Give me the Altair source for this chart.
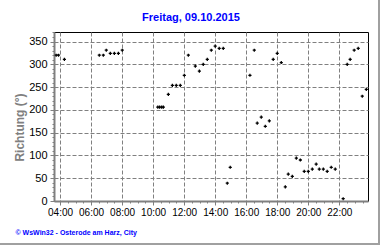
import altair as alt
import pandas as pd

# ---- data (hour of day, wind direction in degrees) ----
hours = [3.75, 3.9, 4.28, 6.53, 6.79, 6.98, 7.24, 7.5, 7.76, 8.01,
         10.3, 10.42, 10.55, 10.66, 10.98, 11.24, 11.49, 11.75, 12.01, 12.27,
         12.72, 12.98, 13.23, 13.49, 13.75, 14.0, 14.26, 14.52, 14.78, 14.97,
         16.24, 16.52, 16.71, 16.97, 17.23, 17.49, 17.74, 18.0, 18.26, 18.52,
         18.71, 18.97, 19.23, 19.49, 19.74, 20.0, 20.26, 20.51, 20.71, 20.97,
         21.22, 21.48, 21.74, 22.25, 22.51, 22.7, 22.96, 23.22, 23.48, 23.74]
direction = [320, 320, 311, 320, 320, 331, 324, 324, 324, 331,
             206, 206, 206, 206, 234, 254, 254, 254, 276, 320,
             296, 285, 300, 311, 331, 340, 335, 335, 39, 74,
             276, 331, 171, 184, 164, 176, 311, 324, 304, 31,
             59, 54, 94, 90, 65, 65, 70, 81, 70, 70,
             65, 74, 70, 5, 300, 311, 331, 335, 230, 245]

x_major = [4, 6, 8, 10, 12, 14, 16, 18, 20, 22]
x_minor = [4.0, 4.5, 5.0, 5.5, 6.0, 6.5, 7.0, 7.5, 8.0, 8.5, 9.0, 9.5, 10.0, 10.5,
           11.0, 11.5, 12.0, 12.5, 13.0, 13.5, 14.0, 14.5, 15.0, 15.5, 16.0, 16.5,
           17.0, 17.5, 18.0, 18.5, 19.0, 19.5, 20.0, 20.5, 21.0, 21.5, 22.0, 22.5,
           23.0, 23.5]
y_major = [0, 50, 100, 150, 200, 250, 300, 350]
y_minor = [0, 10, 20, 30, 40, 50, 60, 70, 80, 90, 100, 110, 120, 130, 140, 150,
           160, 170, 180, 190, 200, 210, 220, 230, 240, 250, 260, 270, 280, 290,
           300, 310, 320, 330, 340, 350, 360, 370]

title_text = "Freitag, 09.10.2015"
y_title = "Richtung (°)"
footer = "© WsWin32 - Osterode am Harz, City"

df = pd.DataFrame({"h": hours, "v": direction})

FONT = "Liberation Sans"
GRAY = "#808080"
BLUE = "#0000FF"

xs = alt.Scale(domain=[3.61, 23.85], nice=False, zero=False)
ys = alt.Scale(domain=[0, 371], nice=False, zero=True)

x_axis_major = alt.Axis(
    orient="bottom", values=x_major, grid=True, gridColor=GRAY, gridDash=[4, 2],
    gridWidth=1, tickColor=GRAY, tickSize=4, domainColor=GRAY, domainWidth=2,
    labelFont=FONT, labelFontSize=10, labelColor="black", labelPadding=2,
    labelExpr="(datum.value < 10 ? '0' : '') + datum.value + ':00'",
    labelFlush=False, labelOverlap=False,
    title=footer, titleFont=FONT, titleFontSize=7, titleFontWeight="bold",
    titleColor=BLUE, titleX=-39, titleY=31, titleAlign="left",
    titleBaseline="middle", titleAnchor="start",
)
x_axis_minor = alt.Axis(
    orient="bottom", values=x_minor, grid=False, labels=False, domain=False,
    tickColor=GRAY, tickSize=2, title=None,
)
y_axis_major = alt.Axis(
    orient="left", values=y_major, grid=True, gridColor=GRAY, gridDash=[4, 2],
    gridWidth=1, tickColor=GRAY, tickSize=4, domainColor=GRAY, domainWidth=2,
    labelFont=FONT, labelFontSize=11, labelColor="black", labelPadding=3,
    labelFlush=False, labelOverlap=False,
    title=y_title, titleFont=FONT, titleFontSize=12, titleFontWeight="bold",
    titleColor=GRAY, titleAngle=-90, titleX=-35, titleY=95,
    titleAlign="center", titleBaseline="middle", titleAnchor="middle",
)
y_axis_minor = alt.Axis(
    orient="left", values=y_minor, grid=False, labels=False, domain=False,
    tickColor=GRAY, tickSize=2, title=None,
)

minor = alt.Chart(df).mark_point(opacity=0).encode(
    x=alt.X("h:Q", scale=xs, axis=x_axis_minor),
    y=alt.Y("v:Q", scale=ys, axis=y_axis_minor),
)
points = alt.Chart(df).mark_point(
    shape="cross", size=10, filled=True, color="black", opacity=1
).encode(
    x=alt.X("h:Q", scale=xs, axis=x_axis_major),
    y=alt.Y("v:Q", scale=ys, axis=y_axis_major),
)

one = pd.DataFrame({"k": [0]})
frame_right = alt.Chart(one).mark_rule(color="#a0a0a0", strokeWidth=2).encode(
    x=alt.value(325), y=alt.value(-32), y2=alt.value(213)
)
frame_bottom = alt.Chart(one).mark_rule(color="#a0a0a0", strokeWidth=2).encode(
    x=alt.value(-54), x2=alt.value(326), y=alt.value(212)
)

chart = alt.layer(minor, points, frame_right, frame_bottom).resolve_axis(
    x="independent", y="independent"
).properties(
    width=314, height=169,
    padding={"left": 54, "top": 32, "right": 12, "bottom": 44},
    autosize=alt.AutoSizeParams(type="none"),
    background="white",
    title=alt.TitleParams(
        title_text, font=FONT, fontSize=11, fontWeight="bold", color=BLUE,
        anchor="middle", frame="group", dx=-20, offset=0, dy=24,
    ),
).configure_view(stroke="black", strokeWidth=1)

chart.save("out.html", embed_options={"renderer": "svg", "actions": False})
